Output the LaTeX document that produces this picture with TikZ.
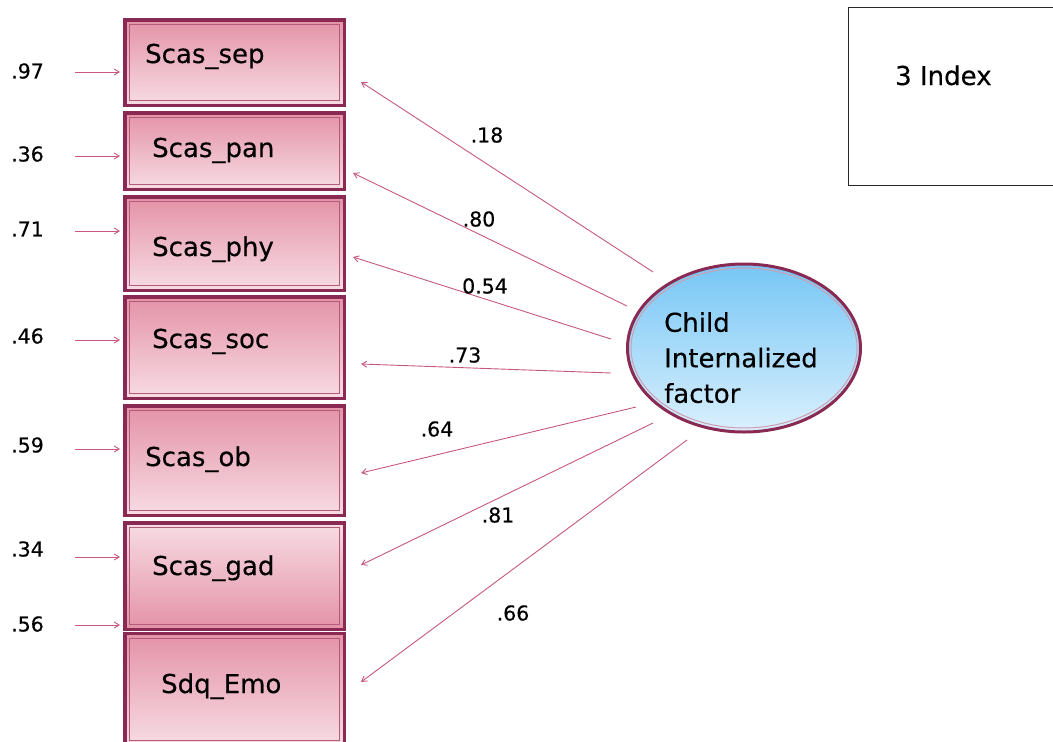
\documentclass[tikz,border=0pt]{standalone}
\usepackage{fontspec}
\setmainfont{DejaVu Sans}[FakeBold=0.35]
\usetikzlibrary{shapes.geometric,arrows.meta}

\definecolor{boxborder}{RGB}{138,42,82}
\definecolor{innerline}{RGB}{178,92,124}
\definecolor{pinktop}{RGB}{228,146,167}
\definecolor{pinkbot}{RGB}{247,220,228}
\definecolor{arrowpink}{RGB}{198,88,126}
\definecolor{bluetop}{RGB}{118,198,245}
\definecolor{bluebot}{RGB}{218,240,253}
\definecolor{framegray}{RGB}{40,40,40}

\tikzset{
  obsbox/.style={rectangle, inner sep=0pt, minimum width=219.5pt, minimum height=#1,
    draw=boxborder, line width=3.5pt,
    path picture={\draw[innerline, line width=1.2pt]
      ([shift={(5pt,-5pt)}]path picture bounding box.north west) rectangle
      ([shift={(-5pt,5pt)}]path picture bounding box.south east);}},
  darktop/.style={top color=pinktop, bottom color=pinkbot},
  lighttop/.style={top color=pinkbot, bottom color=pinktop},
  boxlabel/.style={anchor=base west, inner sep=0pt, font=\fontsize{26}{30}\selectfont},
  numlabel/.style={inner sep=0pt, font=\fontsize{20.5}{24}\selectfont},
  arr/.style={draw=arrowpink, line width=0.9pt, -{Straight Barb[length=5pt,width=6pt]}},
}

\begin{document}
\begin{tikzpicture}[x=1pt, y=-1pt]
\useasboundingbox (0,0) rectangle (1053,742);

% observed indicators
\node[obsbox=85.5pt, darktop]  (sep) at (234.5,62.5)  {};
\node[obsbox=76.5pt, darktop]  (pan) at (234.5,151)   {};
\node[obsbox=93.5pt, darktop]  (phy) at (234.5,243.5) {};
\node[obsbox=101.5pt, darktop] (soc) at (234.5,347.5) {};
\node[obsbox=109.5pt, darktop] (ob)  at (234.5,460.5) {};
\node[obsbox=106.5pt, lighttop](gad) at (234.5,576)   {};
\node[obsbox=112.5pt, darktop] (emo) at (234.5,689.5) {};

\node[boxlabel] (sepT) at (145,63)  {Scas\_sep};
\node[boxlabel] (panT) at (152,157) {Scas\_pan};
\node[boxlabel] (phyT) at (152,256) {Scas\_phy};
\node[boxlabel] (socT) at (152,348) {Scas\_soc};
\node[boxlabel] (obT)  at (145,466) {Scas\_ob};
\node[boxlabel] (gadT) at (152,575) {Scas\_gad};
\node[boxlabel] (emoT) at (161,693) {Sdq\_Emo};

% latent factor
\node[ellipse, minimum width=233pt, minimum height=168pt, inner sep=0pt,
      top color=bluetop, bottom color=bluebot, draw=boxborder, line width=3pt] (f) at (744,348) {};
\draw[innerline!60!white, line width=1pt] (f.center) ellipse (113pt and 80pt);
\node[anchor=west, align=left, inner sep=0pt,
      font=\fontsize{26}{35.5}\selectfont] (fT) at (664,357.6) {Child\\Internalized\\factor};

% fit index box
\node[draw=framegray, line width=1.2pt, rectangle, minimum width=215pt, minimum height=178pt,
      anchor=north west, inner sep=0pt] (idx) at (848,7) {};
\node[boxlabel] (idxT) at (895,85) {3 Index};

% error terms
\foreach \nm/\lab/\ly/\ay/\bx in {sep/.97/71/72/sep, pan/.36/154/156/pan, phy/.71/229/231/phy,
    soc/.46/336/340/soc, ob/.59/445/449/ob, gad/.34/549/557/gad, emo/.56/624/625/gad}{
  \node[numlabel, anchor=west] (err\nm) at (11,\ly) {\lab};
  \coordinate (es\nm) at (75,\ay);
  \draw[arr, shorten >=3pt] (es\nm) -- (es\nm -| \bx.west);
}

% loadings from the factor to each indicator
\foreach \nm/\fx/\fy/\tx/\ty/\lab/\lx/\lyy in {
    sep/-91/76/15/-19.5/.18/487/135,
    pan/-117/42/7/-22/.80/479/219,
    phy/-133/9/7/-13.5/0.54/485/286,
    soc/-133/-25/15/-16.5/.73/465/355,
    ob/-108/-59/15/-12.5/.64/437/429,
    gad/-91/-75/15/11/.81/498/515,
    emo/-57/-92/15/7.5/.66/513/613}{
  \coordinate (ls\nm) at ([xshift=\fx pt, yshift=\fy pt]f.center);
  \coordinate (lt\nm) at ([xshift=\tx pt, yshift=\ty pt]\nm.east);
  \draw[arr] (ls\nm) -- (lt\nm);
  \node[numlabel] (load\nm) at (\lx,\lyy) {\lab};
}
\end{tikzpicture}
\end{document}
